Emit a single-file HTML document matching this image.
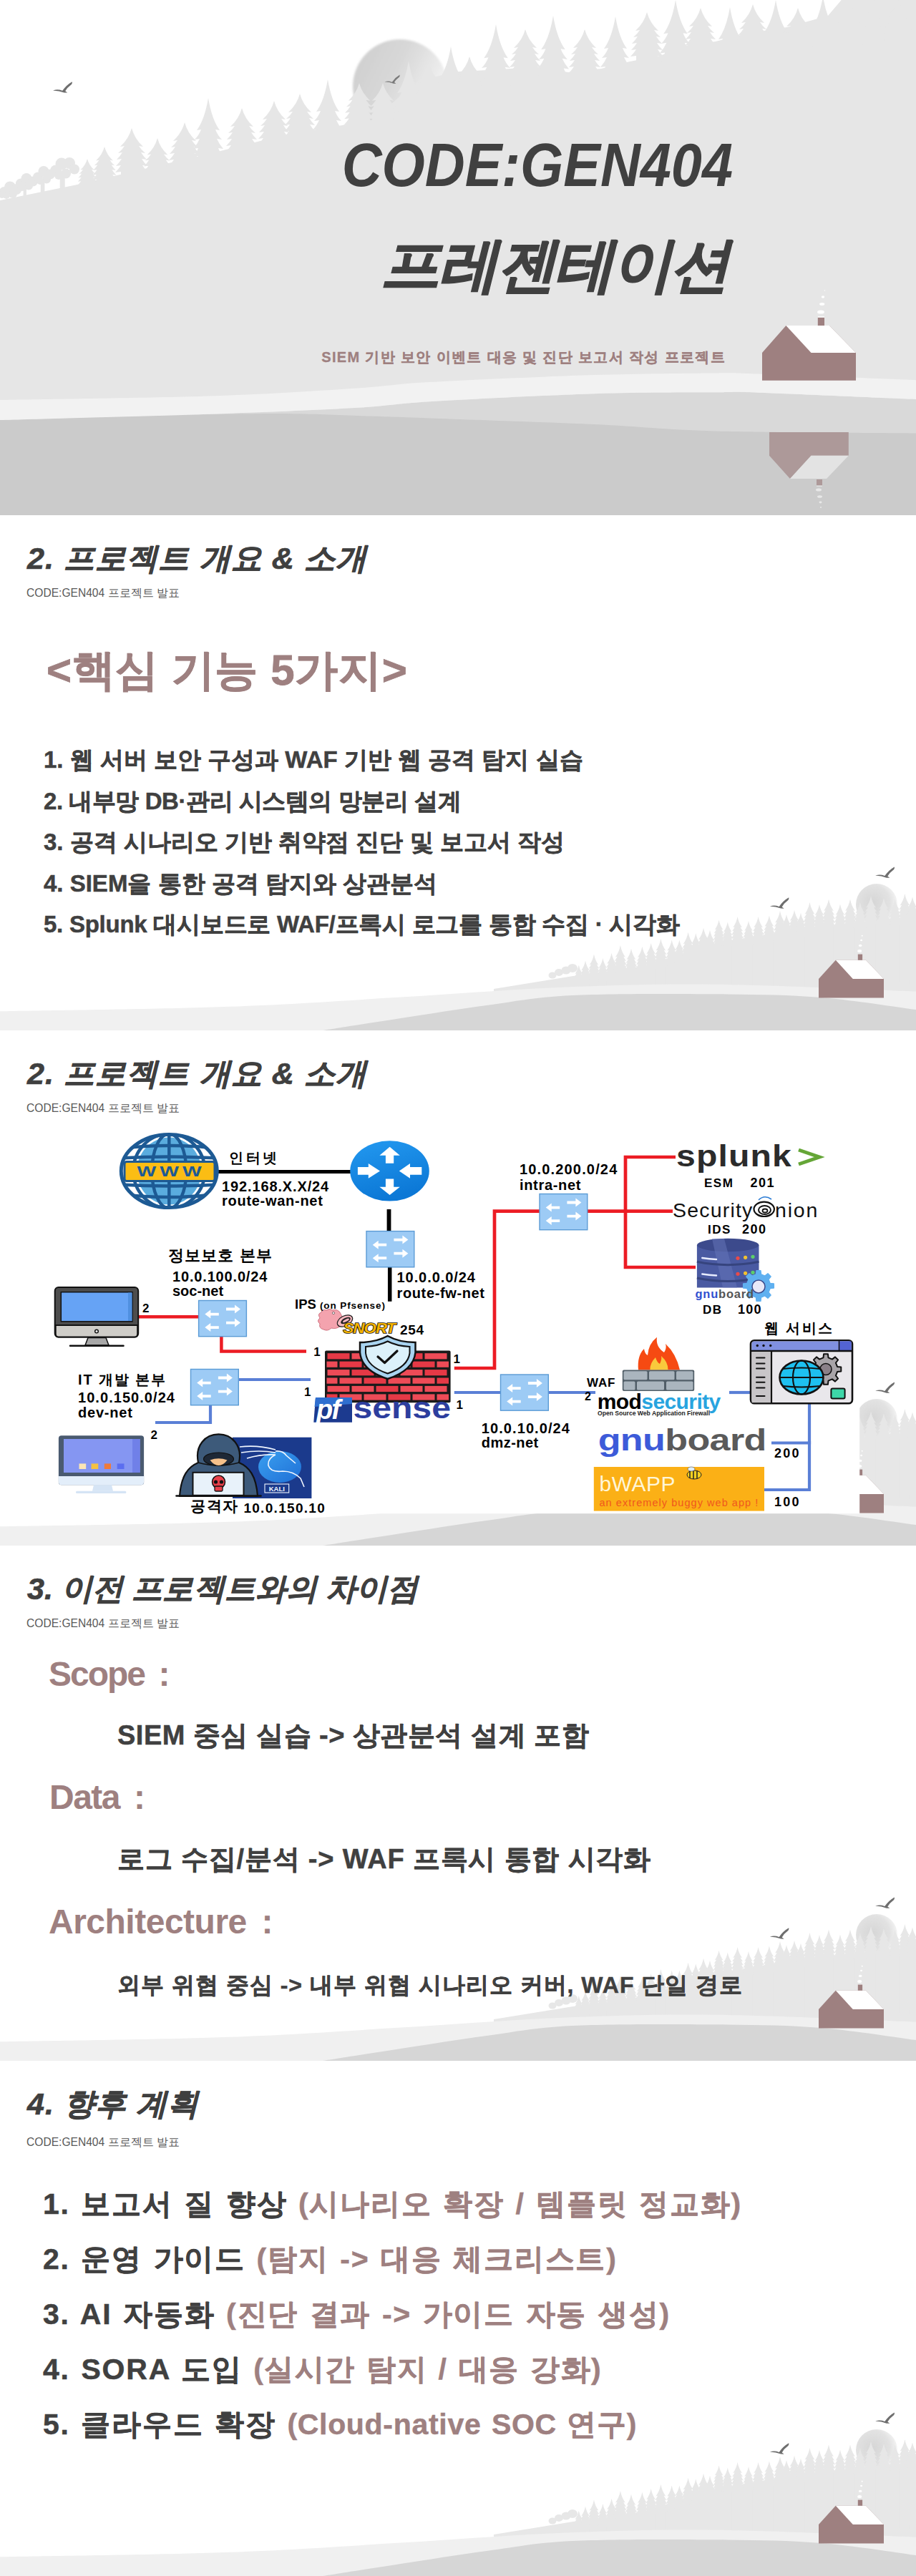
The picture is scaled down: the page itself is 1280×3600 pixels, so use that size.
<!DOCTYPE html><html><head><meta charset="utf-8"><title>CODE:GEN404</title><style>
*{margin:0;padding:0;box-sizing:border-box}
html,body{width:1280px;height:3600px;background:#fff;overflow:hidden}
body{position:relative;font-family:"Liberation Sans",sans-serif}
.s{position:absolute;left:0;width:1280px;height:720px;overflow:hidden}
.bg{position:absolute;left:0;top:0}
.t{position:absolute;white-space:nowrap;line-height:1}
.hd{left:38px;top:39px;letter-spacing:1.1px;font-size:43px;font-weight:bold;font-style:italic;color:#3f3f3f;-webkit-text-stroke:0.7px #3f3f3f}
.sub{left:37px;top:101px;font-size:15.6px;color:#595959}
.li5{left:60px;font-size:41px;font-weight:bold;color:#404040;-webkit-text-stroke:0.5px;letter-spacing:1.8px;word-spacing:2.4px}
.li2{left:61px;font-size:33px;font-weight:bold;color:#404040;-webkit-text-stroke:0.5px #404040}

</style></head><body>
<svg width="0" height="0" style="position:absolute"><defs><path id="tr" d="M0,0 Q-4,15 -16,26 L-10,25 Q-13,30 -19,35 L-13,34 Q-16,39 -21,44 L-14,43 Q-17,48 -22,53 L-15,52 Q-18,57 -23,62 L-15,61 L-15,200 L15,200 L15,61 L23,62 Q18,57 15,52 L22,53 Q17,48 14,43 L21,44 Q16,39 13,34 L19,35 Q13,30 10,25 L16,26 Q4,15 0,0Z"/><path id="tb" d="M0,0 Q-5,30 -16,45 L-10,44 Q-13,52 -19,58 L-12,57 Q-15,64 -21,71 L-14,70 Q-16,76 -22,82 L-14,81 L-14,200 L14,200 L14,81 L22,82 Q16,76 14,70 L21,71 Q15,64 12,57 L19,58 Q13,52 10,44 L16,45 Q5,30 0,0Z"/>
<radialGradient id="mg2" cx="0.4" cy="0.45" r="0.6"><stop offset="0" stop-color="#d6d6d6"/><stop offset="0.7" stop-color="#e2e2e2"/><stop offset="1" stop-color="#f4f4f4"/></radialGradient>
<g id="deco">
<circle cx="1225" cy="544" r="29" fill="url(#mg2)"/>
<g fill="#e7e7e7">
<path d="M690,662 L801,644 L900,630 L1000,598 L1100,581 L1280,560 L1280,700 L690,700Z"/>
<use href="#tr" transform="translate(808.8 628.7) scale(0.324 0.473)"/>
<use href="#tr" transform="translate(818.0 622.5) scale(0.360 0.525)"/>
<use href="#tr" transform="translate(830.0 613.4) scale(0.396 0.578)"/>
<use href="#tr" transform="translate(842.4 619.0) scale(0.360 0.525)"/>
<use href="#tr" transform="translate(854.6 611.8) scale(0.396 0.578)"/>
<use href="#tr" transform="translate(866.9 601.0) scale(0.432 0.630)"/>
<use href="#tr" transform="translate(882.0 605.7) scale(0.396 0.578)"/>
<use href="#tr" transform="translate(897.4 602.7) scale(0.396 0.578)"/>
<use href="#tr" transform="translate(909.7 598.0) scale(0.396 0.578)"/>
<use href="#tr" transform="translate(923.4 592.0) scale(0.432 0.630)"/>
<use href="#tr" transform="translate(938.7 593.5) scale(0.396 0.578)"/>
<use href="#tr" transform="translate(949.4 593.5) scale(0.360 0.525)"/>
<use href="#tr" transform="translate(961.6 582.8) scale(0.432 0.630)"/>
<use href="#tr" transform="translate(972.3 584.3) scale(0.396 0.578)"/>
<use href="#tr" transform="translate(983.0 576.7) scale(0.432 0.630)"/>
<use href="#tr" transform="translate(992.0 579.7) scale(0.396 0.578)"/>
<use href="#tr" transform="translate(1030.6 561.0) scale(0.396 0.578)"/>
<use href="#tr" transform="translate(1046.0 567.0) scale(0.360 0.525)"/>
<use href="#tr" transform="translate(1059.6 561.0) scale(0.396 0.578)"/>
<use href="#tr" transform="translate(1074.9 559.5) scale(0.396 0.578)"/>
<use href="#tr" transform="translate(1090.0 553.0) scale(0.432 0.630)"/>
<use href="#tr" transform="translate(1099.0 558.0) scale(0.360 0.525)"/>
<use href="#tr" transform="translate(1110.0 551.8) scale(0.396 0.578)"/>
<use href="#tr" transform="translate(1119.0 555.8) scale(0.360 0.525)"/>
<use href="#tr" transform="translate(1131.5 541.0) scale(0.432 0.630)"/>
<use href="#tr" transform="translate(1145.0 544.0) scale(0.396 0.578)"/>
<use href="#tr" transform="translate(1158.0 536.6) scale(0.432 0.630)"/>
<use href="#tr" transform="translate(1174.0 543.6) scale(0.396 0.578)"/>
<use href="#tr" transform="translate(1188.0 536.6) scale(0.432 0.630)"/>
<use href="#tr" transform="translate(1201.8 541.0) scale(0.396 0.578)"/>
<use href="#tr" transform="translate(1217.0 532.0) scale(0.432 0.630)"/>
<use href="#tr" transform="translate(1235.0 535.0) scale(0.396 0.578)"/>
<use href="#tr" transform="translate(1250.7 536.6) scale(0.396 0.578)"/>
<use href="#tr" transform="translate(1264.4 529.0) scale(0.432 0.630)"/>
<use href="#tr" transform="translate(1275.0 533.5) scale(0.396 0.578)"/>
<use href="#tr" transform="translate(1004.6 565.6) scale(0.360 0.525)"/>
<use href="#tr" transform="translate(1016.8 568.6) scale(0.360 0.525)"/>
<ellipse cx="772.0" cy="643.0" rx="5.5" ry="4.5"/>
<ellipse cx="781.0" cy="639.0" rx="6.0" ry="5.0"/>
<ellipse cx="791.0" cy="636.0" rx="6.5" ry="5.5"/>
<ellipse cx="800.0" cy="633.0" rx="7.0" ry="6.0"/>
</g>
<path transform="translate(1090.2 547.9) scale(1.00)" fill="#6e6e6e" d="M-14,-1.5 Q-8,-3.6 -1.5,-1 Q4,-9 12,-13.6 Q12.8,-11 10,-8.8 Q5,-5.2 2.5,-0.5 L5.5,1.8 L1,1.7 Q-7,-1.4 -14,-1.1 Z"/>
<path transform="translate(1237.8 505.0) scale(1.00)" fill="#6e6e6e" d="M-14,-1.5 Q-8,-3.6 -1.5,-1 Q4,-9 12,-13.6 Q12.8,-11 10,-8.8 Q5,-5.2 2.5,-0.5 L5.5,1.8 L1,1.7 Q-7,-1.4 -14,-1.1 Z"/>
<path fill="#f0f0f0" d="M0.0,693.2 C53.3,692.1 226.7,690.1 320.0,686.8 C413.3,683.5 483.3,678.1 560.0,673.6 C636.7,669.1 706.7,663.0 780.0,660.0 C853.3,657.0 916.7,654.8 1000.0,655.7 C1083.3,656.6 1233.3,663.9 1280.0,665.5 L1280,720 L0,720Z"/>
<path fill="#d6d6d6" d="M451.0,720.0 C469.2,717.2 521.8,708.8 560.0,703.0 C598.2,697.2 640.0,690.3 680.0,685.0 C720.0,679.7 746.7,673.6 800.0,671.0 C853.3,668.4 942.7,668.8 1000.0,669.3 C1057.3,669.8 1097.3,670.1 1144.0,673.7 C1190.7,677.3 1257.3,688.1 1280.0,691.0 L1280,720Z"/>
<path fill="#9e8080" d="M1144,674.5 L1144,648 L1167.8,621.7 L1210,621.7 L1235,648 L1235,674.5Z"/>
<path fill="#fff" d="M1167.8,621.7 L1210,621.7 L1235,648 L1191.8,648Z"/>
<rect x="1198.8" y="613.6" width="6.3" height="8.2" fill="#9e8080"/>
<ellipse cx="1201.2" cy="608.9" rx="3.0" ry="2.0" fill="#fff"/>
<ellipse cx="1202.2" cy="601.4" rx="2.3" ry="1.6" fill="#fff"/>
<ellipse cx="1203.6" cy="594.0" rx="1.5" ry="1.2" fill="#fff"/>
<ellipse cx="1204.7" cy="587.7" rx="1.0" ry="1.0" fill="#fff"/>
</g>
</defs></svg>
<div class="s" style="top:0px">
<svg class="bg" width="1280" height="720" viewBox="0 0 1280 720">
<defs><linearGradient id="mg" x1="0" y1="0.25" x2="1" y2="0.75"><stop offset="0" stop-color="#cfcfcf"/><stop offset="0.4" stop-color="#d8d8d8"/><stop offset="0.75" stop-color="#ebebeb"/><stop offset="1" stop-color="#fdfdfd"/></linearGradient><filter id="bl" x="-20%" y="-20%" width="140%" height="140%"><feGaussianBlur stdDeviation="1.6"/></filter></defs>
<rect width="1280" height="720" fill="#fff"/>
<circle cx="559" cy="121" r="66" fill="url(#mg)" filter="url(#bl)"/>
<g fill="#e6e6e6">
<path d="M0,280 L108,258 L300,213 L400,188 L520,168 L555,138 L586,112 L641,100 L700,97 L750,93 L794,101 L840,96 L880,86 L922,78 L962,63 L1000,58 L1035,49 L1067,43 L1100,38 L1157,22 L1180,-5 L1280,-5 L1280,720 L0,720Z"/>
<use href="#tr" transform="translate(122.0 222.0) scale(0.600 0.600)"/>
<use href="#tr" transform="translate(146.0 205.0) scale(0.750 0.750)"/>
<use href="#tr" transform="translate(184.0 179.0) scale(1.000 1.000)"/>
<use href="#tr" transform="translate(220.0 193.0) scale(0.900 0.900)"/>
<use href="#tr" transform="translate(258.0 171.0) scale(1.000 1.000)"/>
<use href="#tb" transform="translate(291.0 137.0) scale(1.000 1.000)"/>
<use href="#tr" transform="translate(338.0 151.0) scale(1.000 1.000)"/>
<use href="#tr" transform="translate(383.0 141.0) scale(1.000 1.000)"/>
<use href="#tr" transform="translate(419.0 131.0) scale(1.000 1.000)"/>
<use href="#tb" transform="translate(458.0 111.0) scale(1.000 1.000)"/>
<use href="#tr" transform="translate(502.0 116.0) scale(0.950 0.950)"/>
<use href="#tr" transform="translate(535.0 116.0) scale(0.950 0.950)"/>
<use href="#tb" transform="translate(571.0 85.0) scale(1.000 1.000)"/>
<use href="#tr" transform="translate(600.0 90.0) scale(1.000 1.000)"/>
<use href="#tb" transform="translate(630.0 65.0) scale(1.000 1.000)"/>
<use href="#tr" transform="translate(656.0 79.0) scale(1.000 1.000)"/>
<use href="#tb" transform="translate(693.0 34.0) scale(1.050 1.050)"/>
<use href="#tr" transform="translate(734.0 41.0) scale(1.000 1.000)"/>
<use href="#tb" transform="translate(773.0 22.0) scale(1.050 1.050)"/>
<use href="#tr" transform="translate(817.0 41.0) scale(1.000 1.000)"/>
<use href="#tb" transform="translate(860.0 23.0) scale(1.000 1.000)"/>
<use href="#tr" transform="translate(904.0 17.0) scale(1.000 1.000)"/>
<use href="#tb" transform="translate(944.0 0.0) scale(1.050 1.050)"/>
<use href="#tr" transform="translate(979.0 11.0) scale(1.000 1.000)"/>
<use href="#tb" transform="translate(1020.0 10.0) scale(1.000 1.000)"/>
<use href="#tr" transform="translate(1052.0 6.0) scale(1.000 1.000)"/>
<use href="#tb" transform="translate(1084.0 0.0) scale(1.000 1.000)"/>
<use href="#tr" transform="translate(1115.0 11.0) scale(1.000 1.000)"/>
<use href="#tb" transform="translate(1150.0 -5.0) scale(1.000 1.000)"/>
<use href="#tr" transform="translate(1185.0 -3.0) scale(1.000 1.000)"/>
<use href="#tb" transform="translate(1220.0 -8.0) scale(1.000 1.000)"/>
<use href="#tr" transform="translate(1255.0 -2.0) scale(1.000 1.000)"/>
<circle cx="6.0" cy="268.0" r="7.0"/>
<circle cx="14.0" cy="261.5" r="8.0"/>
<circle cx="23.0" cy="264.5" r="7.5"/>
<circle cx="18.0" cy="271.0" r="6.0"/>
<circle cx="9.0" cy="273.0" r="5.0"/>
<circle cx="3.0" cy="272.0" r="5.0"/>
<circle cx="29.0" cy="256.5" r="7.0"/>
<circle cx="37.0" cy="249.5" r="7.5"/>
<circle cx="46.0" cy="253.5" r="7.0"/>
<circle cx="40.0" cy="259.5" r="6.0"/>
<circle cx="31.0" cy="262.0" r="5.0"/>
<circle cx="53.0" cy="247.5" r="7.0"/>
<circle cx="61.0" cy="239.5" r="7.5"/>
<circle cx="70.0" cy="243.5" r="7.0"/>
<circle cx="65.0" cy="250.5" r="6.0"/>
<circle cx="56.0" cy="253.0" r="5.0"/>
<circle cx="78.0" cy="238.5" r="8.0"/>
<circle cx="86.0" cy="229.0" r="8.5"/>
<circle cx="97.0" cy="228.0" r="8.0"/>
<circle cx="104.0" cy="236.5" r="7.0"/>
<circle cx="92.0" cy="242.5" r="7.0"/>
<circle cx="82.0" cy="245.0" r="6.0"/>
<rect x="32.6" y="262.0" width="4.3" height="14.0"/>
<rect x="56.8" y="254.0" width="5.6" height="15.0"/>
<rect x="83.7" y="247.0" width="7.0" height="16.0"/>
</g>
<path transform="translate(88.7 127.8) scale(1.00)" fill="#6e6e6e" d="M-14,-1.5 Q-8,-3.6 -1.5,-1 Q4,-9 12,-13.6 Q12.8,-11 10,-8.8 Q5,-5.2 2.5,-0.5 L5.5,1.8 L1,1.7 Q-7,-1.4 -14,-1.1 Z"/>
<path transform="translate(549.0 115.5) scale(0.80)" fill="#7a7a7a" d="M-14,-1.5 Q-8,-3.6 -1.5,-1 Q4,-9 12,-13.6 Q12.8,-11 10,-8.8 Q5,-5.2 2.5,-0.5 L5.5,1.8 L1,1.7 Q-7,-1.4 -14,-1.1 Z"/>
<path fill="#d9d9d9" d="M0.0,587.0 C50.0,585.6 216.7,581.4 300.0,578.5 C383.3,575.6 450.0,572.7 500.0,569.8 C550.0,566.9 545.0,564.6 600.0,561.3 C655.0,558.0 763.3,552.4 830.0,550.2 C896.7,548.0 961.7,548.5 1000.0,548.3 C1038.3,548.0 1013.3,547.1 1060.0,548.7 C1106.7,550.3 1243.3,556.5 1280.0,558.0 L1280,720 L0,720Z"/>
<path fill="#cbcbcb" d="M0.0,587.0 C33.3,586.0 136.0,582.5 200.0,581.0 C264.0,579.5 334.0,578.0 384.0,578.0 C434.0,578.0 464.0,579.9 500.0,581.0 C536.0,582.1 545.0,582.4 600.0,584.4 C655.0,586.4 763.3,589.9 830.0,592.9 C896.7,595.9 925.0,600.3 1000.0,602.4 C1075.0,604.5 1233.3,605.0 1280.0,605.5 L1280,720 L0,720Z"/>
<path fill="#f2f2f2" d="M0.0,559.0 C50.0,558.0 216.7,556.0 300.0,553.2 C383.3,550.5 450.0,545.7 500.0,542.5 C550.0,539.3 545.0,537.2 600.0,534.1 C655.0,531.0 763.3,526.2 830.0,524.1 C896.7,522.0 961.7,521.6 1000.0,521.4 C1038.3,521.1 1013.3,521.0 1060.0,522.6 C1106.7,524.2 1243.3,529.8 1280.0,531.2 L1280.0,558.0 C1243.3,556.5 1106.7,550.3 1060.0,548.7 C1013.3,547.1 1038.3,548.0 1000.0,548.3 C961.7,548.5 896.7,548.0 830.0,550.2 C763.3,552.4 655.0,558.0 600.0,561.3 C545.0,564.6 550.0,566.9 500.0,569.8 C450.0,572.7 383.3,575.6 300.0,578.5 C216.7,581.4 50.0,585.6 0.0,587.0 Z"/>
<path fill="#9e8080" d="M1065,531.7 L1065,493 L1098.4,455 L1159,455 L1196,493 L1196,531.7Z"/>
<path fill="#fff" d="M1098.4,455 L1159,455 L1196,493 L1133.5,493Z"/>
<rect x="1142.8" y="443.6" width="9.2" height="11.4" fill="#9e8080"/><rect x="1142.8" y="442.2" width="9.2" height="1.4" fill="#fff"/>
<ellipse cx="1147.0" cy="436.0" rx="5.0" ry="2.6" fill="#fff"/>
<ellipse cx="1148.7" cy="425.0" rx="3.6" ry="1.9" fill="#fff"/>
<ellipse cx="1150.0" cy="415.0" rx="2.2" ry="1.8" fill="#fff"/>
<ellipse cx="1152.4" cy="406.0" rx="0.7" ry="0.8" fill="#fff"/>
<path fill="#ad9999" d="M1075,604 L1185.8,604 L1185.8,636.8 L1133.5,636.8 L1104,669 L1075,636.8Z"/>
<path fill="#e3e3e3" d="M1104,669 L1155,669 L1185.8,636.8 L1133.5,636.8Z"/>
<rect x="1141" y="670" width="8" height="8.6" fill="#ad9999"/><rect x="1141" y="678.6" width="8" height="1" fill="#eee"/>
<ellipse cx="1144.0" cy="684.5" rx="4.0" ry="2.0" fill="#e8e8e8"/>
<ellipse cx="1145.5" cy="694.0" rx="3.5" ry="1.8" fill="#e8e8e8"/>
<ellipse cx="1146.5" cy="702.0" rx="2.0" ry="1.4" fill="#e8e8e8"/>
<ellipse cx="1147.0" cy="709.0" rx="1.0" ry="1.0" fill="#e8e8e8"/>
</svg>
<div class="t" id="t1a" style="right:256px;top:187px;font-size:86px;font-weight:bold;font-style:italic;color:#404040;transform:scaleX(0.9);transform-origin:100% 50%">CODE:GEN404</div>
<div class="t" id="t1b" style="right:262px;top:329px;letter-spacing:-2px;font-size:83px;font-weight:bold;font-style:italic;color:#404040;-webkit-text-stroke:1.4px #404040">프레젠테이션</div>
<div class="t" id="t1c" style="right:266px;top:489px;font-size:20px;font-weight:bold;color:#9e8080;letter-spacing:1.35px;-webkit-text-stroke:0.3px #9e8080">SIEM 기반 보안 이벤트 대응 및 진단 보고서 작성 프로젝트</div>
</div>
<div class="s" style="top:720px">
<svg class="bg" width="1280" height="720" viewBox="0 0 1280 720"><use href="#deco"/></svg>
<div class="t hd" id="h2">2. 프로젝트 개요 &amp; 소개</div><div class="t sub">CODE:GEN404 프로젝트 발표</div>
<div class="t" id="s2big" style="left:65px;top:187px;font-size:60px;font-weight:bold;color:#9e8080;letter-spacing:0.7px;-webkit-text-stroke:0.8px #9e8080">&lt;핵심 기능 5가지&gt;</div>
<div class="t li2" style="top:325.0px">1. 웹 서버 보안 구성과 WAF 기반 웹 공격 탐지 실습</div>
<div class="t li2" style="top:382.5px;letter-spacing:-0.45px">2. 내부망 DB·관리 시스템의 망분리 설계</div>
<div class="t li2" style="top:440.0px">3. 공격 시나리오 기반 취약점 진단 및 보고서 작성</div>
<div class="t li2" style="top:497.5px">4. SIEM을 통한 공격 탐지와 상관분석</div>
<div class="t li2" style="top:555.0px;letter-spacing:-0.25px">5. Splunk 대시보드로 WAF/프록시 로그를 통합 수집 · 시각화</div>
</div>
<div class="s" style="top:1440px">
<svg class="bg" width="1280" height="720" viewBox="0 0 1280 720"><use href="#deco"/></svg>
<svg class="bg" width="1280" height="720" viewBox="0 1440 1280 720" font-family="Liberation Sans, sans-serif">
<rect x="58" y="1540" width="1143.2" height="575.2" fill="#fff"/>
<path d="M300.0,1637.6 L492.0,1637.6" fill="none" stroke="#000" stroke-width="5.0" stroke-linejoin="miter"/>
<path d="M543.5,1690.0 L543.5,1722.0" fill="none" stroke="#000" stroke-width="5.8" stroke-linejoin="miter"/>
<path d="M544.7,1769.0 L544.7,1818.8" fill="none" stroke="#000" stroke-width="5.5" stroke-linejoin="miter"/>
<path d="M193.0,1840.2 L279.0,1840.2" fill="none" stroke="#ec1c24" stroke-width="4.5" stroke-linejoin="miter"/>
<path d="M309.4,1868.0 L309.4,1888.5 L428.0,1888.5" fill="none" stroke="#ec1c24" stroke-width="4.5" stroke-linejoin="miter"/>
<path d="M634.8,1912.0 L691.0,1912.0 L691.0,1692.6 L755.0,1692.6" fill="none" stroke="#ec1c24" stroke-width="4.7" stroke-linejoin="miter"/>
<path d="M819.0,1692.6 L940.0,1692.6" fill="none" stroke="#ec1c24" stroke-width="4.7" stroke-linejoin="miter"/>
<path d="M944.0,1617.0 L874.0,1617.0 L874.0,1771.0 L972.0,1771.0" fill="none" stroke="#ec1c24" stroke-width="4.7" stroke-linejoin="miter"/>
<path d="M333.0,1928.0 L434.0,1928.0" fill="none" stroke="#5a7fd6" stroke-width="4.2" stroke-linejoin="miter"/>
<path d="M294.0,1962.0 L294.0,1988.0 L217.0,1988.0" fill="none" stroke="#5a7fd6" stroke-width="4.2" stroke-linejoin="miter"/>
<path d="M634.8,1946.0 L701.0,1946.0" fill="none" stroke="#5a7fd6" stroke-width="4.2" stroke-linejoin="miter"/>
<path d="M765.0,1946.0 L832.0,1946.0" fill="none" stroke="#5a7fd6" stroke-width="4.2" stroke-linejoin="miter"/>
<path d="M1019.0,1946.0 L1050.0,1946.0" fill="none" stroke="#5a7fd6" stroke-width="4.2" stroke-linejoin="miter"/>
<path d="M1078.0,2016.5 L1131.0,2016.5 L1131.0,1962.0" fill="none" stroke="#5a7fd6" stroke-width="4.2" stroke-linejoin="miter"/>
<path d="M1068.0,2082.0 L1131.0,2082.0 L1131.0,2014.0" fill="none" stroke="#5a7fd6" stroke-width="4.2" stroke-linejoin="miter"/>
<clipPath id="gcl"><ellipse cx="236.3" cy="1636.6" rx="68" ry="52"/></clipPath><ellipse cx="236.3" cy="1636.6" rx="68" ry="52" fill="#fff"/><ellipse cx="236.3" cy="1636.6" rx="45" ry="47" fill="#5aacde"/><g clip-path="url(#gcl)" stroke="#1d5a94" stroke-width="4.5" fill="none"><line x1="236.3" y1="1580" x2="236.3" y2="1695"/><ellipse cx="236.3" cy="1636.6" rx="24" ry="52"/><ellipse cx="236.3" cy="1636.6" rx="50" ry="52"/><path d="M160,1606 Q236,1596 312,1606"/><path d="M160,1619 Q236,1614 312,1619"/><path d="M160,1655 Q236,1660 312,1655"/><path d="M160,1668 Q236,1678 312,1668"/></g><ellipse cx="236.3" cy="1636.6" rx="67" ry="51" fill="none" stroke="#1d5a94" stroke-width="5"/><rect x="174" y="1623.5" width="126" height="27" rx="3" fill="#fbbd14" stroke="#1d5a94" stroke-width="3"/><text x="238.3" y="1643.8" font-size="19.5" font-weight="bold" fill="#1d5a94" text-anchor="middle" letter-spacing="3.5" transform="translate(236.3 0) scale(1.45 1) translate(-236.3 0)">WWW</text>
<defs><linearGradient id="rg" x1="0" y1="0" x2="0.3" y2="1"><stop offset="0" stop-color="#2399f0"/><stop offset="1" stop-color="#0c78d6"/></linearGradient></defs><ellipse cx="544.5" cy="1636.4" rx="55.3" ry="42.2" fill="url(#rg)"/><g fill="#fff"><path d="M530.4,1614.7 L544.6,1602.7 L558.8,1614.7 L550.2,1614.7 L550.2,1625.8 L538.9,1625.8 L538.9,1614.7Z"/><path d="M530.4,1658.7 L544.6,1670 L558.8,1658.7 L550.2,1658.7 L550.2,1647.4 L538.9,1647.4 L538.9,1658.7Z"/><path d="M499.9,1631 L514.8,1631 L514.8,1626 L531,1636.4 L514.8,1646.7 L514.8,1641.7 L499.9,1641.7Z"/><path d="M589.3,1631 L573,1631 L573,1626 L557.8,1636.4 L573,1646.7 L573,1641.7 L589.3,1641.7Z"/></g>
<rect x="512.0" y="1720.6" width="66.8" height="50.2" fill="#9dcbf5" stroke="#5b9bd5" stroke-width="1.4"/><path fill="#fff" d="M540.2,1737.8 L528.7,1737.8 L528.7,1733.7 L520.7,1739.7 L528.7,1745.7 L528.7,1741.6 L540.2,1741.6 Z"/><path fill="#fff" d="M540.2,1756.3 L528.7,1756.3 L528.7,1752.2 L520.7,1758.2 L528.7,1764.2 L528.7,1760.1 L540.2,1760.1 Z"/><path fill="#fff" d="M550.4,1730.7 L562.4,1730.7 L562.4,1726.6 L570.4,1732.6 L562.4,1738.6 L562.4,1734.5 L550.4,1734.5 Z"/><path fill="#fff" d="M550.4,1749.8 L562.4,1749.8 L562.4,1745.7 L570.4,1751.7 L562.4,1757.7 L562.4,1753.6 L550.4,1753.6 Z"/>
<rect x="277.6" y="1817.5" width="66.8" height="50.2" fill="#9dcbf5" stroke="#5b9bd5" stroke-width="1.4"/><path fill="#fff" d="M305.8,1834.7 L294.3,1834.7 L294.3,1830.6 L286.3,1836.6 L294.3,1842.6 L294.3,1838.5 L305.8,1838.5 Z"/><path fill="#fff" d="M305.8,1853.2 L294.3,1853.2 L294.3,1849.1 L286.3,1855.1 L294.3,1861.1 L294.3,1857.0 L305.8,1857.0 Z"/><path fill="#fff" d="M316.0,1827.6 L328.0,1827.6 L328.0,1823.5 L336.0,1829.5 L328.0,1835.5 L328.0,1831.4 L316.0,1831.4 Z"/><path fill="#fff" d="M316.0,1846.7 L328.0,1846.7 L328.0,1842.6 L336.0,1848.6 L328.0,1854.6 L328.0,1850.5 L316.0,1850.5 Z"/>
<rect x="266.5" y="1913.5" width="66.8" height="50.2" fill="#9dcbf5" stroke="#5b9bd5" stroke-width="1.4"/><path fill="#fff" d="M294.7,1930.7 L283.2,1930.7 L283.2,1926.6 L275.2,1932.6 L283.2,1938.6 L283.2,1934.5 L294.7,1934.5 Z"/><path fill="#fff" d="M294.7,1949.2 L283.2,1949.2 L283.2,1945.1 L275.2,1951.1 L283.2,1957.1 L283.2,1953.0 L294.7,1953.0 Z"/><path fill="#fff" d="M304.9,1923.6 L316.9,1923.6 L316.9,1919.5 L324.9,1925.5 L316.9,1931.5 L316.9,1927.4 L304.9,1927.4 Z"/><path fill="#fff" d="M304.9,1942.7 L316.9,1942.7 L316.9,1938.6 L324.9,1944.6 L316.9,1950.6 L316.9,1946.5 L304.9,1946.5 Z"/>
<rect x="754.0" y="1668.5" width="66.8" height="50.2" fill="#9dcbf5" stroke="#5b9bd5" stroke-width="1.4"/><path fill="#fff" d="M782.2,1685.7 L770.7,1685.7 L770.7,1681.6 L762.7,1687.6 L770.7,1693.6 L770.7,1689.5 L782.2,1689.5 Z"/><path fill="#fff" d="M782.2,1704.2 L770.7,1704.2 L770.7,1700.1 L762.7,1706.1 L770.7,1712.1 L770.7,1708.0 L782.2,1708.0 Z"/><path fill="#fff" d="M792.4,1678.6 L804.4,1678.6 L804.4,1674.5 L812.4,1680.5 L804.4,1686.5 L804.4,1682.4 L792.4,1682.4 Z"/><path fill="#fff" d="M792.4,1697.7 L804.4,1697.7 L804.4,1693.6 L812.4,1699.6 L804.4,1705.6 L804.4,1701.5 L792.4,1701.5 Z"/>
<rect x="699.5" y="1921.0" width="66.8" height="50.2" fill="#9dcbf5" stroke="#5b9bd5" stroke-width="1.4"/><path fill="#fff" d="M727.7,1938.2 L716.2,1938.2 L716.2,1934.1 L708.2,1940.1 L716.2,1946.1 L716.2,1942.0 L727.7,1942.0 Z"/><path fill="#fff" d="M727.7,1956.7 L716.2,1956.7 L716.2,1952.6 L708.2,1958.6 L716.2,1964.6 L716.2,1960.5 L727.7,1960.5 Z"/><path fill="#fff" d="M737.9,1931.1 L749.9,1931.1 L749.9,1927.0 L757.9,1933.0 L749.9,1939.0 L749.9,1934.9 L737.9,1934.9 Z"/><path fill="#fff" d="M737.9,1950.2 L749.9,1950.2 L749.9,1946.1 L757.9,1952.1 L749.9,1958.1 L749.9,1954.0 L737.9,1954.0 Z"/>
<rect x="76.7" y="1798.9" width="116.5" height="69.6" rx="5" fill="#4d4d4d" stroke="#111" stroke-width="2"/><rect x="85.3" y="1805.7" width="99.7" height="41.1" fill="#66a3f5" stroke="#111" stroke-width="1.5"/><rect x="179" y="1806.5" width="5.5" height="39.5" fill="#5090e0"/><path d="M77.7,1852 L192.2,1852 L192.2,1864 Q192.2,1868.5 188,1868.5 L82,1868.5 Q77.7,1868.5 77.7,1864Z" fill="#cfcdc8" stroke="#111" stroke-width="2"/><circle cx="135" cy="1860.5" r="2.3" fill="#fff" stroke="#111" stroke-width="1.5"/><path d="M123,1869.5 L148,1869.5 L152,1880 L119,1880Z" fill="#a8a8a8" stroke="#111" stroke-width="1.5"/><line x1="98" y1="1880.8" x2="172.5" y2="1880.8" stroke="#111" stroke-width="2.5" stroke-linecap="round"/>
<rect x="81.9" y="2006.2" width="119.2" height="69" rx="4" fill="#4a5a70"/><rect x="89" y="2011" width="106.6" height="47" fill="#8596f2"/><rect x="185" y="2011" width="10.6" height="47" fill="#7080e8"/><path d="M81.9,2063 L201.1,2063 L201.1,2071 Q201.1,2075.2 197,2075.2 L86,2075.2 Q81.9,2075.2 81.9,2071Z" fill="#e3eefa"/><rect x="110.5" y="2045.4" width="9.7" height="7.6" fill="#fbe5b5"/><rect x="127.5" y="2045.4" width="9.8" height="7.6" fill="#f5c242"/><rect x="145.8" y="2045.4" width="9.2" height="7.6" fill="#f07a3a"/><rect x="163.7" y="2045.4" width="9.8" height="7.6" fill="#5b6ef0"/><path d="M131,2075.2 L156,2075.2 L158,2083.7 L129,2083.7Z" fill="#d5e4f5"/><rect x="106" y="2083.7" width="70.4" height="3.3" rx="1.5" fill="#d5e4f5"/>
<path d="M447,1842 Q443,1836 449,1834 Q450,1829 456,1831 Q460,1828 465,1831 Q471,1829 475,1834 L478,1840 Q480,1848 476,1853 Q470,1858 463,1856 Q458,1861 452,1858 Q445,1856 447,1850 Q442,1846 447,1842Z" fill="#f4a3ae" stroke="#c4606f" stroke-width="0.8"/><ellipse cx="482" cy="1846" rx="11.5" ry="7" transform="rotate(-28 482 1846)" fill="#f7b8c0" stroke="#222" stroke-width="1.2"/><ellipse cx="483" cy="1845.5" rx="7.5" ry="3.6" transform="rotate(-28 483 1845.5)" fill="#222"/><ellipse cx="483.5" cy="1845.3" rx="5" ry="1.6" transform="rotate(-28 483.5 1845.3)" fill="#f7b8c0"/><circle cx="466" cy="1835" r="1.6" fill="#fff" stroke="#333" stroke-width="0.6"/><text x="479.5" y="1863.5" font-size="19.5" font-weight="bold" fill="#f5b400" text-anchor="start" font-style="italic" stroke="#111" stroke-width="1.6" paint-order="stroke" letter-spacing="-0.8" transform="translate(479.5 0) scale(1.14 1) translate(-479.5 0)">SNORT</text>
<rect x="454" y="1887.6" width="175.6" height="72.6" fill="#1a1a1a" rx="2"/><rect x="457.5" y="1891.2" width="31.0" height="8.2" fill="#e63946"/><rect x="491.5" y="1891.2" width="31.0" height="8.2" fill="#ee4b57"/><rect x="525.5" y="1891.2" width="31.0" height="8.2" fill="#ee4b57"/><rect x="559.5" y="1891.2" width="31.0" height="8.2" fill="#e63946"/><rect x="593.5" y="1891.2" width="31.0" height="8.2" fill="#ee4b57"/><rect x="456.5" y="1902.6" width="15.0" height="8.2" fill="#ee4b57"/><rect x="474.5" y="1902.6" width="31.0" height="8.2" fill="#e63946"/><rect x="508.5" y="1902.6" width="31.0" height="8.2" fill="#ee4b57"/><rect x="542.5" y="1902.6" width="31.0" height="8.2" fill="#ee4b57"/><rect x="576.5" y="1902.6" width="31.0" height="8.2" fill="#e63946"/><rect x="610.5" y="1902.6" width="16.5" height="8.2" fill="#ee4b57"/><rect x="457.5" y="1914.1" width="31.0" height="8.2" fill="#ee4b57"/><rect x="491.5" y="1914.1" width="31.0" height="8.2" fill="#e63946"/><rect x="525.5" y="1914.1" width="31.0" height="8.2" fill="#ee4b57"/><rect x="559.5" y="1914.1" width="31.0" height="8.2" fill="#ee4b57"/><rect x="593.5" y="1914.1" width="31.0" height="8.2" fill="#e63946"/><rect x="456.5" y="1925.5" width="15.0" height="8.2" fill="#ee4b57"/><rect x="474.5" y="1925.5" width="31.0" height="8.2" fill="#ee4b57"/><rect x="508.5" y="1925.5" width="31.0" height="8.2" fill="#e63946"/><rect x="542.5" y="1925.5" width="31.0" height="8.2" fill="#ee4b57"/><rect x="576.5" y="1925.5" width="31.0" height="8.2" fill="#ee4b57"/><rect x="610.5" y="1925.5" width="16.5" height="8.2" fill="#e63946"/><rect x="457.5" y="1936.9" width="31.0" height="8.2" fill="#ee4b57"/><rect x="491.5" y="1936.9" width="31.0" height="8.2" fill="#ee4b57"/><rect x="525.5" y="1936.9" width="31.0" height="8.2" fill="#e63946"/><rect x="559.5" y="1936.9" width="31.0" height="8.2" fill="#ee4b57"/><rect x="593.5" y="1936.9" width="31.0" height="8.2" fill="#ee4b57"/><rect x="456.5" y="1948.4" width="15.0" height="8.2" fill="#e63946"/><rect x="474.5" y="1948.4" width="31.0" height="8.2" fill="#ee4b57"/><rect x="508.5" y="1948.4" width="31.0" height="8.2" fill="#ee4b57"/><rect x="542.5" y="1948.4" width="31.0" height="8.2" fill="#e63946"/><rect x="576.5" y="1948.4" width="31.0" height="8.2" fill="#ee4b57"/><rect x="610.5" y="1948.4" width="16.5" height="8.2" fill="#ee4b57"/><path d="M541.7,1867 Q525,1876 503,1876 L503,1890 Q505,1915 541.7,1927 Q578,1915 580.5,1890 L580.5,1876 Q558,1876 541.7,1867Z" fill="#a9d4f0" stroke="#111" stroke-width="2.5"/><path d="M541.7,1874.5 Q529,1881 511,1882 L511,1891 Q513,1910 541.7,1919.5 Q570,1910 572.5,1891 L572.5,1882 Q554,1881 541.7,1874.5Z" fill="#dcf1fa" stroke="#111" stroke-width="2"/><path d="M528,1896 L537.5,1904.5 L555,1888" fill="none" stroke="#111" stroke-width="3.2" stroke-linecap="round" stroke-linejoin="round"/><path d="M441,1953 L492,1953 L492,1987.7 L438.3,1987.7Z" fill="#1c3a8f"/><path d="M441,1953 L492,1953 L492,1962 L439.5,1966Z" fill="#2f6fd0"/><text x="442.0" y="1983.0" font-size="38.0" font-weight="bold" fill="#fff" text-anchor="start" font-style="italic" letter-spacing="-2">pf</text><text x="493.4" y="1982.4" font-size="43.0" font-weight="bold" fill="#2d3e9e" text-anchor="start" transform="translate(493.4 0) scale(1.12 1) translate(-493.4 0)">sense</text>
<rect x="325" y="2008.7" width="110.4" height="85.3" fill="#1b3a8c"/><defs><linearGradient id="kg" x1="0" y1="0" x2="1" y2="1"><stop offset="0" stop-color="#3aa0f0"/><stop offset="1" stop-color="#1f6fd6"/></linearGradient></defs><ellipse cx="391" cy="2050" rx="30" ry="22" fill="url(#kg)"/><path d="M335,2022 Q360,2019 385,2026 M337,2030 Q362,2026 385,2030 M345,2038 Q365,2032 385,2033 M385,2028 Q395,2027 400,2034 L413,2045 M385,2033 Q374,2038 375,2048 Q378,2058 395,2056 Q410,2056 420,2066 L425,2078" fill="none" stroke="#f0f6ff" stroke-width="1.6"/><rect x="370" y="2074" width="33.7" height="12" fill="none" stroke="#f0f6ff" stroke-width="1.1"/><text x="386.8" y="2083.8" font-size="9.5" font-weight="bold" fill="#f0f6ff" text-anchor="middle" >KALI</text>
<path d="M251,2091 C253,2062 263,2050 277,2044 C272,2020 287,2004.4 305.5,2004.4 C324,2004.4 339,2020 334,2044 C348,2050 358,2062 360,2091 Z" fill="#3d5a7a" stroke="#111" stroke-width="2.2"/><path d="M277,2044 Q305.5,2052 334,2044" fill="none" stroke="#111" stroke-width="1.6"/><ellipse cx="305.5" cy="2039" rx="21" ry="9" fill="#1e2836" stroke="#111" stroke-width="1.2"/><path d="M293.5,2040.5 Q305.5,2036 317.5,2040.5 Q312,2048 305.5,2048 Q299,2048 293.5,2040.5Z" fill="#f5c08a"/><rect x="269.5" y="2057.8" width="71" height="32" fill="#e8f2fa" stroke="#111" stroke-width="2"/><circle cx="305.5" cy="2071" r="9" fill="#e8404a" stroke="#111" stroke-width="1.5"/><rect x="300" y="2077" width="11" height="7" rx="1.5" fill="#e8404a" stroke="#111" stroke-width="1.3"/><circle cx="301.5" cy="2071" r="2.6" fill="#111"/><circle cx="309.5" cy="2071" r="2.6" fill="#111"/><line x1="246.5" y1="2090.5" x2="364.5" y2="2090.5" stroke="#111" stroke-width="2.6" stroke-linecap="round"/>
<path d="M973.9,1740 L973.9,1799.5 L1060.5,1799.5 L1060.5,1740Z" fill="#4a5aa2"/><ellipse cx="1017.2" cy="1740" rx="43.3" ry="9.2" fill="#3c4a8c"/><path d="M995,1731 L1012,1731 L1030,1799.5 L1010,1799.5Z" fill="#6574b8" opacity="0.55"/><path d="M973.9,1763.3 Q1017,1772 1060.5,1763.3" fill="none" stroke="#36447e" stroke-width="3"/><path d="M973.9,1786 Q1017,1795 1060.5,1786" fill="none" stroke="#36447e" stroke-width="3"/><path d="M981.3,1758 Q991,1759.5 1001,1760" stroke="#e8ecff" stroke-width="2.5" stroke-linecap="round"/><path d="M981.3,1780.5 Q991,1782 1001,1782.5" stroke="#e8ecff" stroke-width="2.5" stroke-linecap="round"/><circle cx="1031" cy="1758.3" r="2.6" fill="#e84a4a"/><circle cx="1041.6" cy="1757.3" r="2.6" fill="#f2c230"/><circle cx="1052" cy="1756.3" r="2.6" fill="#5ccf6a"/><circle cx="1031" cy="1780.3" r="2.6" fill="#e84a4a"/><circle cx="1041.6" cy="1779.3" r="2.6" fill="#f2c230"/><circle cx="1052" cy="1778.3" r="2.6" fill="#5ccf6a"/><path d="M1076.1,1793.5 L1081.3,1794.1 L1081.3,1799.9 L1076.1,1800.5 L1073.9,1805.9 L1077.1,1810.0 L1073.0,1814.1 L1068.9,1810.9 L1063.5,1813.1 L1062.9,1818.3 L1057.1,1818.3 L1056.5,1813.1 L1051.1,1810.9 L1047.0,1814.1 L1042.9,1810.0 L1046.1,1805.9 L1043.9,1800.5 L1038.7,1799.9 L1038.7,1794.1 L1043.9,1793.5 L1046.1,1788.1 L1042.9,1784.0 L1047.0,1779.9 L1051.1,1783.1 L1056.5,1780.9 L1057.1,1775.7 L1062.9,1775.7 L1063.5,1780.9 L1068.9,1783.1 L1073.0,1779.9 L1077.1,1784.0 L1073.9,1788.1Z" fill="#5fb0f0" stroke="#5fb0f0" stroke-width="1.5" stroke-linejoin="round"/><circle cx="1060" cy="1798" r="9" fill="#e8e8f8" stroke="#3c4a8c" stroke-width="1.5"/><text x="971.4" y="1813.6" font-size="16.5" font-weight="bold" fill="#555" text-anchor="start" letter-spacing="0.8"><tspan fill="#3050d0">gnu</tspan><tspan fill="#555">board</tspan></text>
<path d="M892,1914.6 Q890,1895 900,1885 Q901,1892 905,1894 Q906,1878 918,1868.7 Q916,1882 928,1890 Q932,1884 930,1878 Q945,1892 950,1914.6Z" fill="#f64a12"/><path d="M908.4,1914.6 Q908,1905 916,1897 Q918,1904 922,1906 Q925,1900 924,1895 Q934,1904 933.5,1914.6Z" fill="#f9c93c"/><rect x="869.8" y="1914.6" width="100.4" height="29.4" rx="2" fill="#515e68"/><rect x="871.5" y="1916.2" width="33.0" height="12" rx="1.5" fill="#aab5be"/><rect x="907.0" y="1916.2" width="35.5" height="12" rx="1.5" fill="#aab5be"/><rect x="945.0" y="1916.2" width="23.5" height="12" rx="1.5" fill="#aab5be"/><rect x="871.5" y="1930.5" width="16.0" height="12" rx="1.5" fill="#aab5be"/><rect x="890.0" y="1930.5" width="38.0" height="12" rx="1.5" fill="#aab5be"/><rect x="931.0" y="1930.5" width="37.5" height="12" rx="1.5" fill="#aab5be"/><text x="834.8" y="1969.0" font-size="30.0" font-weight="bold" fill="#000" text-anchor="start" letter-spacing="-0.6"><tspan fill="#000">mod</tspan><tspan fill="#28a4df">security</tspan></text><text x="835.0" y="1978.3" font-size="8.6" font-weight="bold" fill="#222" text-anchor="start" >Open Source Web Application Firewall</text>
<rect x="1049" y="1873.3" width="142" height="88" rx="5" fill="#e9e7eb" stroke="#111" stroke-width="2.6"/><path d="M1050.5,1887.2 L1050.5,1878 Q1050.5,1874.5 1054,1874.5 L1186,1874.5 Q1189.6,1874.5 1189.6,1878 L1189.6,1887.2Z" fill="#8090e0"/><rect x="1172.8" y="1874.5" width="16.8" height="12.7" fill="#5363d3"/><line x1="1049" y1="1888" x2="1191" y2="1888" stroke="#111" stroke-width="2.4"/><line x1="1172.5" y1="1874" x2="1172.5" y2="1887" stroke="#111" stroke-width="1.5"/><circle cx="1058.3" cy="1880.5" r="1.7" fill="#111"/><circle cx="1067.0" cy="1880.5" r="1.7" fill="#111"/><circle cx="1076.7" cy="1880.5" r="1.7" fill="#111"/><rect x="1050.5" y="1889.2" width="27" height="71" fill="#c8c5c8"/><line x1="1078" y1="1888" x2="1078" y2="1961" stroke="#111" stroke-width="2.2"/><line x1="1057" y1="1897.6" x2="1068.5" y2="1897.6" stroke="#111" stroke-width="2" stroke-linecap="round"/><line x1="1057" y1="1905.5" x2="1068.5" y2="1905.5" stroke="#111" stroke-width="2" stroke-linecap="round"/><line x1="1057" y1="1912.5" x2="1068.5" y2="1912.5" stroke="#111" stroke-width="2" stroke-linecap="round"/><line x1="1057" y1="1924.7" x2="1068.5" y2="1924.7" stroke="#111" stroke-width="2" stroke-linecap="round"/><line x1="1057" y1="1931.7" x2="1068.5" y2="1931.7" stroke="#111" stroke-width="2" stroke-linecap="round"/><line x1="1057" y1="1939.6" x2="1068.5" y2="1939.6" stroke="#111" stroke-width="2" stroke-linecap="round"/><line x1="1057" y1="1951.0" x2="1068.5" y2="1951.0" stroke="#111" stroke-width="2" stroke-linecap="round"/><path d="M1170.1,1910.0 L1175.3,1910.6 L1175.3,1916.4 L1170.1,1917.0 L1167.9,1922.4 L1171.1,1926.5 L1167.0,1930.6 L1162.9,1927.4 L1157.5,1929.6 L1156.9,1934.8 L1151.1,1934.8 L1150.5,1929.6 L1145.1,1927.4 L1141.0,1930.6 L1136.9,1926.5 L1140.1,1922.4 L1137.9,1917.0 L1132.7,1916.4 L1132.7,1910.6 L1137.9,1910.0 L1140.1,1904.6 L1136.9,1900.5 L1141.0,1896.4 L1145.1,1899.6 L1150.5,1897.4 L1151.1,1892.2 L1156.9,1892.2 L1157.5,1897.4 L1162.9,1899.6 L1167.0,1896.4 L1171.1,1900.5 L1167.9,1904.6Z" fill="#a8a4a8" stroke="#111" stroke-width="2" stroke-linejoin="round"/><circle cx="1154" cy="1913.5" r="8" fill="#8a8088" stroke="#111" stroke-width="1.5"/><ellipse cx="1120" cy="1925" rx="30.5" ry="23.5" fill="#1ec0f0" stroke="#111" stroke-width="2.6"/><g fill="none" stroke="#111" stroke-width="2.2"><ellipse cx="1120" cy="1925" rx="12" ry="23.5"/><line x1="1090" y1="1925" x2="1150" y2="1925"/><path d="M1094,1913 Q1120,1910 1146,1913"/><path d="M1094,1937 Q1120,1940 1146,1937"/></g><rect x="1161.4" y="1940.4" width="19.2" height="14" rx="2" fill="#3dd6a8" stroke="#111" stroke-width="2"/>
<rect x="829.8" y="2050" width="238.2" height="61.6" fill="#fbb016"/><text x="837.5" y="2084.3" font-size="30.0" font-weight="normal" fill="#fff6d8" text-anchor="start" letter-spacing="0.5">bWAPP</text><ellipse cx="970" cy="2061" rx="10" ry="6" fill="#f5d020" stroke="#222" stroke-width="1"/><path d="M964,2056 L964,2066 M969,2055 L969,2067 M974,2055.5 L974,2066.5" stroke="#222" stroke-width="1.5"/><ellipse cx="966" cy="2053" rx="5" ry="3" fill="#dfefff" stroke="#555" stroke-width="0.6"/><text x="837.5" y="2104.5" font-size="14.5" font-weight="normal" fill="#f0571e" text-anchor="start" letter-spacing="1.05">an extremely buggy web app !</text>
<text x="945.0" y="1630.2" font-size="43.0" font-weight="bold" fill="#2b2b2b" text-anchor="start" letter-spacing="1" transform="translate(945 0) scale(1.12 1) translate(-945 0)">splunk</text>
<path d="M1116,1607 L1145,1617 L1116,1627" fill="none" stroke="#65a637" stroke-width="5"/>
<text x="940.0" y="1700.5" font-size="28.5" font-weight="normal" fill="#111" text-anchor="start" letter-spacing="1.2">Security</text>
<ellipse cx="1067.7" cy="1689.8" rx="14.2" ry="10.2" fill="none" stroke="#111" stroke-width="2.2"/><ellipse cx="1068.5" cy="1691" rx="8.5" ry="6" fill="none" stroke="#111" stroke-width="2"/><ellipse cx="1069" cy="1692" rx="3.5" ry="2.5" fill="none" stroke="#111" stroke-width="1.8"/>
<path d="M1060,1677 Q1068,1669 1078,1676" fill="none" stroke="#2a7bd4" stroke-width="1.6"/>
<text x="1083.0" y="1700.5" font-size="28.5" font-weight="normal" fill="#111" text-anchor="start" letter-spacing="1.8">nion</text>
<text x="835.7" y="2026.7" font-size="42.0" font-weight="bold" fill="#5a5a5a" text-anchor="start" letter-spacing="-0.5" transform="translate(835.7 0) scale(1.24 1) translate(-835.7 0)"><tspan fill="#3d5bd9">gnu</tspan><tspan fill="#5a5a5a">board</tspan></text>
<text x="320.0" y="1624.5" font-size="20.0" font-weight="bold" fill="#000" text-anchor="start" letter-spacing="3.50">인터넷</text>
<text x="310.0" y="1665.0" font-size="20.0" font-weight="bold" fill="#000" text-anchor="start" letter-spacing="0.87">192.168.X.X/24</text>
<text x="310.0" y="1685.0" font-size="20.0" font-weight="bold" fill="#000" text-anchor="start" letter-spacing="0.72">route-wan-net</text>
<text x="554.5" y="1792.0" font-size="20.0" font-weight="bold" fill="#000" text-anchor="start" letter-spacing="0.94">10.0.0.0/24</text>
<text x="554.5" y="1813.7" font-size="20.0" font-weight="bold" fill="#000" text-anchor="start" letter-spacing="0.63">route-fw-net</text>
<text x="234.8" y="1762.0" font-size="22.0" font-weight="bold" fill="#000" text-anchor="start" letter-spacing="1.20">정보보호 본부</text>
<text x="241.0" y="1791.0" font-size="20.0" font-weight="bold" fill="#000" text-anchor="start" letter-spacing="0.83">10.0.100.0/24</text>
<text x="241.0" y="1810.7" font-size="20.0" font-weight="bold" fill="#000" text-anchor="start" >soc-net</text>
<text x="199.0" y="1834.0" font-size="17.0" font-weight="bold" fill="#000" text-anchor="start" >2</text>
<text x="558.9" y="1864.5" font-size="19.0" font-weight="bold" fill="#000" text-anchor="start" letter-spacing="0.70">254</text>
<text x="438.3" y="1894.7" font-size="17.0" font-weight="bold" fill="#000" text-anchor="start" >1</text>
<text x="633.5" y="1905.0" font-size="17.0" font-weight="bold" fill="#000" text-anchor="start" >1</text>
<text x="425.0" y="1951.0" font-size="17.0" font-weight="bold" fill="#000" text-anchor="start" >1</text>
<text x="637.5" y="1968.8" font-size="17.0" font-weight="bold" fill="#000" text-anchor="start" >1</text>
<text x="109.0" y="1934.5" font-size="20.0" font-weight="bold" fill="#000" text-anchor="start" letter-spacing="1.85">IT 개발 본부</text>
<text x="109.0" y="1960.0" font-size="20.0" font-weight="bold" fill="#000" text-anchor="start" letter-spacing="1.05">10.0.150.0/24</text>
<text x="109.0" y="1980.7" font-size="20.0" font-weight="bold" fill="#000" text-anchor="start" letter-spacing="0.80">dev-net</text>
<text x="210.5" y="2011.0" font-size="17.0" font-weight="bold" fill="#000" text-anchor="start" >2</text>
<text x="726.0" y="1641.4" font-size="20.0" font-weight="bold" fill="#000" text-anchor="start" letter-spacing="1.16">10.0.200.0/24</text>
<text x="726.0" y="1663.0" font-size="20.0" font-weight="bold" fill="#000" text-anchor="start" letter-spacing="0.67">intra-net</text>
<text x="984.0" y="1659.0" font-size="17.0" font-weight="bold" fill="#000" text-anchor="start" letter-spacing="1.50">ESM</text>
<text x="1048.5" y="1659.0" font-size="18.0" font-weight="bold" fill="#000" text-anchor="start" letter-spacing="1.50">201</text>
<text x="989.0" y="1724.3" font-size="17.0" font-weight="bold" fill="#000" text-anchor="start" letter-spacing="1.50">IDS</text>
<text x="1037.0" y="1724.3" font-size="18.0" font-weight="bold" fill="#000" text-anchor="start" letter-spacing="1.50">200</text>
<text x="982.0" y="1835.7" font-size="17.0" font-weight="bold" fill="#000" text-anchor="start" letter-spacing="1.50">DB</text>
<text x="1031.0" y="1835.7" font-size="18.0" font-weight="bold" fill="#000" text-anchor="start" letter-spacing="1.30">100</text>
<text x="1068.0" y="1862.5" font-size="20.0" font-weight="bold" fill="#000" text-anchor="start" letter-spacing="2.40">웹 서비스</text>
<text x="820.0" y="1937.5" font-size="17.0" font-weight="bold" fill="#000" text-anchor="start" letter-spacing="0.80">WAF</text>
<text x="817.0" y="1957.0" font-size="16.0" font-weight="bold" fill="#000" text-anchor="start" >2</text>
<text x="672.8" y="2003.4" font-size="20.0" font-weight="bold" fill="#000" text-anchor="start" letter-spacing="1.08">10.0.10.0/24</text>
<text x="672.8" y="2023.0" font-size="20.0" font-weight="bold" fill="#000" text-anchor="start" letter-spacing="0.47">dmz-net</text>
<text x="1082.0" y="2037.2" font-size="18.0" font-weight="bold" fill="#000" text-anchor="start" letter-spacing="2.20">200</text>
<text x="1082.0" y="2105.0" font-size="18.0" font-weight="bold" fill="#000" text-anchor="start" letter-spacing="2.20">100</text>
<text x="266.0" y="2112.0" font-size="21.0" font-weight="bold" fill="#000" text-anchor="start" letter-spacing="1.70">공격자</text>
<text x="340.4" y="2113.5" font-size="19.0" font-weight="bold" fill="#000" text-anchor="start" letter-spacing="1.30">10.0.150.10</text>
<text x="412.0" y="1829.0" font-size="18.5" font-weight="bold" fill="#000" text-anchor="start" >IPS <tspan font-size="13.5" letter-spacing="0.9">(on Pfsense)</tspan></text>
</svg>
<div class="t hd" id="h3">2. 프로젝트 개요 &amp; 소개</div><div class="t sub">CODE:GEN404 프로젝트 발표</div>
</div>
<div class="s" style="top:2160px">
<svg class="bg" width="1280" height="720" viewBox="0 0 1280 720"><use href="#deco"/></svg>
<div class="t hd" id="h4" style="letter-spacing:0.1px">3. 이전 프로젝트와의 차이점</div><div class="t sub">CODE:GEN404 프로젝트 발표</div>
<div class="t" style="left:68px;top:155.5px;font-size:48px;font-weight:bold;color:#9e8080;word-spacing:8px;letter-spacing:-2px">Scope :</div>
<div class="t" style="left:164px;top:245.5px;font-size:38px;font-weight:bold;color:#404040;-webkit-text-stroke:0.5px #404040;letter-spacing:0.5px">SIEM 중심 실습 -&gt; 상관분석 설계 포함</div>
<div class="t" style="left:69px;top:328px;font-size:48px;font-weight:bold;color:#9e8080;word-spacing:8px;letter-spacing:-1.5px">Data :</div>
<div class="t" style="left:164px;top:418.5px;font-size:38px;font-weight:bold;color:#404040;-webkit-text-stroke:0.5px #404040;letter-spacing:0.8px">로그 수집/분석 -&gt; WAF 프록시 통합 시각화</div>
<div class="t" style="left:68px;top:501.5px;font-size:48px;font-weight:bold;color:#9e8080;word-spacing:8px;letter-spacing:-0.5px">Architecture :</div>
<div class="t" style="left:164px;top:598px;font-size:32px;font-weight:bold;color:#404040;letter-spacing:1px;-webkit-text-stroke:0.5px #404040">외부 위협 중심 -&gt; 내부 위협 시나리오 커버, WAF 단일 경로</div>
</div>
<div class="s" style="top:2880px">
<svg class="bg" width="1280" height="720" viewBox="0 0 1280 720"><use href="#deco"/></svg>
<div class="t hd" id="h5">4. 향후 계획</div><div class="t sub" style="top:105.5px">CODE:GEN404 프로젝트 발표</div>
<div class="t li5" style="top:179.5px">1. 보고서 질 향상 <span style="color:#9e8080">(시나리오 확장 / 템플릿 정교화)</span></div>
<div class="t li5" style="top:256.5px">2. 운영 가이드 <span style="color:#9e8080">(탐지 -&gt; 대응 체크리스트)</span></div>
<div class="t li5" style="top:333.5px">3. AI 자동화 <span style="color:#9e8080">(진단 결과 -&gt; 가이드 자동 생성)</span></div>
<div class="t li5" style="top:410.5px">4. SORA 도입 <span style="color:#9e8080;letter-spacing:1.5px">(실시간 탐지 / 대응 강화)</span></div>
<div class="t li5" style="top:487.5px">5. 클라우드 확장 <span style="color:#9e8080;letter-spacing:0.7px">(Cloud-native SOC 연구)</span></div>
</div>
</body></html>
